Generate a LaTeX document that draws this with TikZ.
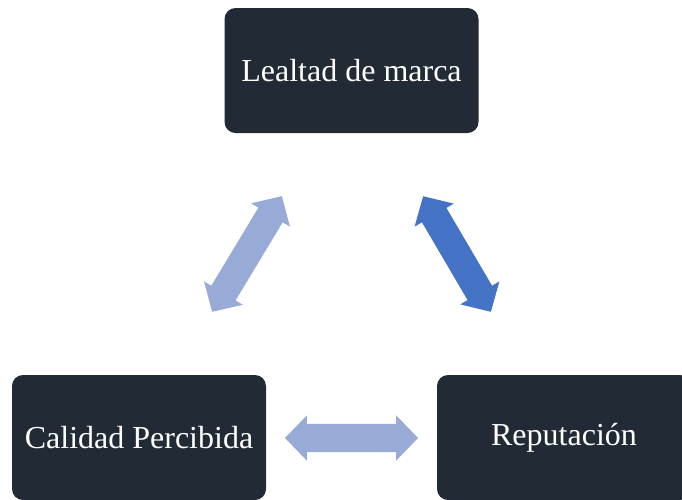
\documentclass[tikz,border=0pt]{standalone}
\usepackage{fontspec}
\setmainfont{Liberation Serif}
\usetikzlibrary{shapes.arrows}
\definecolor{boxdark}{HTML}{222A35}
\definecolor{linklight}{HTML}{98ABD6}
\definecolor{linkblue}{HTML}{4472C4}
\begin{document}
\begin{tikzpicture}[x=1pt,y=-1pt,
  concept/.style={fill=boxdark, rounded corners=11pt, minimum width=254pt,
    minimum height=125pt, inner sep=0pt, text=white,
    font=\fontsize{32}{38}\selectfont},
  link/.style={double arrow, draw=none, inner xsep=0pt, inner ysep=14pt,
    minimum width=0pt, double arrow head extend=8.5pt,
    double arrow tip angle=92, minimum height=#1},
]
\useasboundingbox (0,0) rectangle (682,499);
\clip (0,0) rectangle (682,499);

% the three concepts
\node[concept] (lealtad)    at (351.5,70.5) {Lealtad de marca};
\node[concept] (calidad)    at (139,437.5)  {Calidad Percibida};
\node[concept] (reputacion) at (564,437.5)  {Reputación};

% two-way links between them
\node[link=135pt, fill=linklight, rotate=58.9]  (l-cal-lea) at (247,254)   {};
\node[link=134pt, fill=linkblue,  rotate=-59.6] (l-lea-rep) at (457,254)   {};
\node[link=133pt, fill=linklight]               (l-cal-rep) at (351.5,438) {};
\end{tikzpicture}
\end{document}
